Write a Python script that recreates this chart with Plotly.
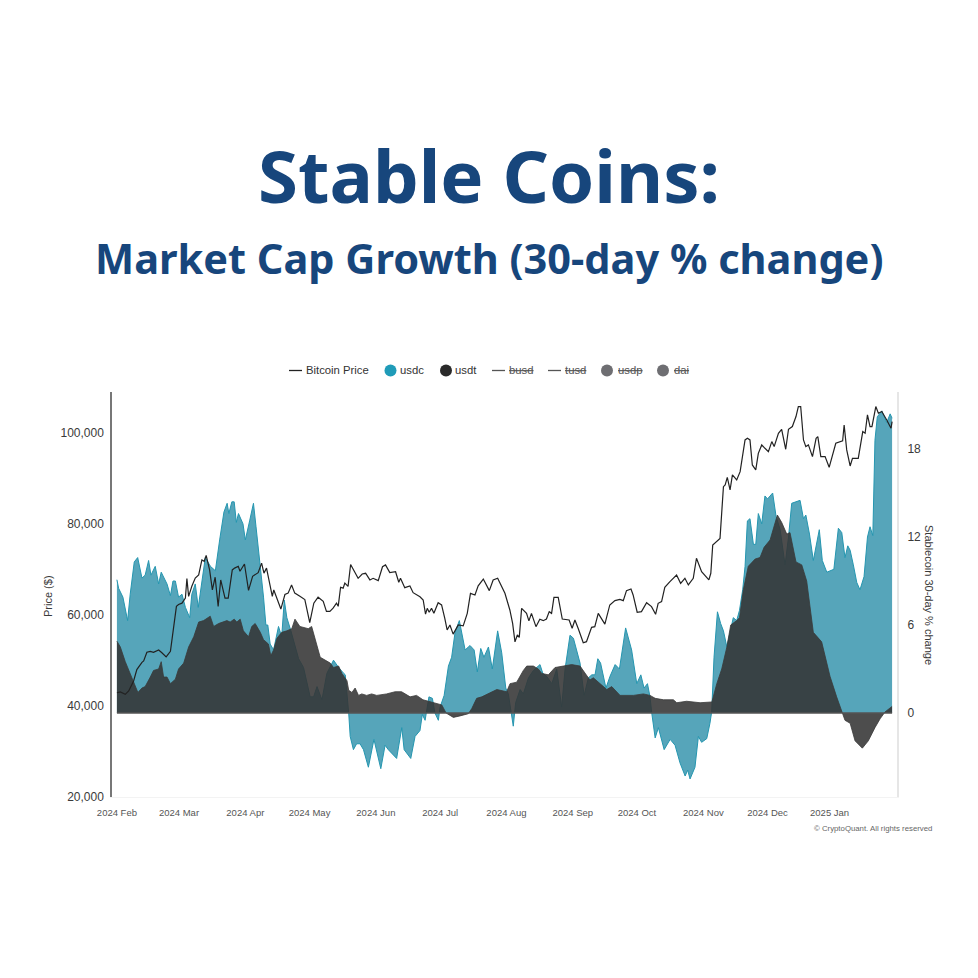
import pandas as pd
import plotly.graph_objects as go

start_date = pd.Timestamp('2024-02-01')

# days since 2024-02-01
btc_days = [0, 1.6, 3.9, 5.5, 7.8, 9.3, 11.7, 12.5, 14, 15.6, 17.1, 19.5, 21, 23, 25, 26.2, 27.8, 28.8, 30.4, 32, 32.7, 33.5, 35, 36.6, 38.2, 39.7, 40.8, 41.7, 43.3, 44.6, 45.9, 47.3, 48.5, 50.5, 52, 53.9, 55, 56.7, 57.5, 59.6, 61.5, 63.4, 66, 67.6, 68.7, 69.9, 70.7, 72.6, 73.3, 74.6, 76.6, 78.5, 80, 81.6, 83.1, 85.5, 87.8, 90.1, 92, 94, 96.4, 97.9, 99.5, 101, 102.6, 103.4, 104.5, 105.7, 106.5, 108,
            109.2, 112.7, 114.6, 116.2, 118.2, 119.7, 122.1, 124.1, 125.5, 127.5, 130.2, 131.7, 132.5, 134.5, 136.9, 138.4, 141.6, 143.1, 144.2, 145, 145.9, 147, 148.1, 150.1, 151.7, 153.2, 154.3, 155.6, 157.1, 159.5, 161.8, 163.7, 165.2, 167.3, 168.8, 171.2, 174, 175.8, 177.9, 181.3, 183.6, 184.9, 186, 187.1, 188, 189.1, 191.4, 192.5, 193.7, 195.8, 197.6, 199.2, 200.7, 202, 203.1, 204.2, 206.2, 208.1, 211.3, 212.7, 214, 215.5, 217.9, 219.4, 221.8, 223.3, 224.9, 228, 230.3, 232.7, 235, 236.6, 238.1, 240.2, 241.2, 243.1, 245.1, 247.5, 249.8, 251.7, 252.9, 254.5, 256, 258.4, 261.5, 263.4, 265.4, 267, 269.3, 270.8, 273.2, 276.6, 277.5,
            278.4, 281.8, 283.4, 284.2, 285.2, 286.5, 287.6, 289.6, 291.2, 293.5, 294.6, 295.8, 296.9, 298.5, 299.7, 301.3, 302.8, 304.4, 306, 307.1, 309.1, 310.6, 312.5, 313.8, 315.6, 317.3, 318.4, 319.5, 320.8, 321.9, 323.1, 325, 326.7, 327.5, 328.9, 330.9, 332.8, 335.9, 339.1, 339.8, 341, 342.6, 343.7, 346.4, 348.5, 349.6, 350.7, 351.9, 352.8, 354.6, 355.8, 357.4, 359.7, 361.7, 362.2]
btc_price = [42900, 43100, 42550, 43300, 45500, 48000, 49600, 49900, 51800, 52000, 51800, 52300, 51700, 50800, 52000, 56000, 61900, 62300, 62600, 63700, 68000, 64100, 66300, 68100, 68800, 72100, 71800, 73100, 69900, 65500, 68300, 61900, 67700, 63700, 63700, 69900, 70300, 70700, 69600, 71200, 65400, 68500, 69300, 71400, 69200, 70300, 68500, 64100, 65500, 63700, 61300, 64500, 64800, 66600, 64800, 64100, 63400, 58300, 62600, 63900, 63000, 60800, 60800, 61500, 62600, 61900, 66100, 65900, 67000, 66300,
             71100, 68060, 69000, 69160, 67700, 68060, 67550, 70600, 71000, 69300, 69500, 67200, 68060, 66000, 66370, 64900, 64000, 63300, 60200, 61460, 60600, 61460, 60360, 62700, 62200, 59260, 56700, 57800, 55800, 57800, 57600, 60360, 64760, 64400, 66400, 67900, 65350, 67700, 68060, 64760, 61100, 58160, 54100, 55600, 55080, 61460, 60360, 58700, 60360, 57430, 59050, 58750, 59100, 60730, 60360, 63880, 63880, 59100, 58900, 57070, 58900, 57070, 53900, 54130, 57280, 57430, 60360, 58000, 62200, 63150, 63440, 63150, 65350, 65700, 64400, 60600, 60730, 62700, 61830, 60140, 62560, 62930, 66080, 67330, 68790, 66960, 68060, 66600, 68060, 72460, 69520, 67700, 69160,
             75375, 76840, 88200, 88570, 90250, 87470, 90770, 89670, 91500, 98460, 98830, 98460, 92970, 91870, 95530, 97370, 96630, 95900, 98100, 97000, 99930, 100810, 96410, 100810, 101400, 103600, 105800, 105800, 98460, 97000, 97370, 94800, 98830, 99200, 94800, 94800, 92450, 97730, 98250, 101760, 96270, 92750, 94430, 94430, 100300, 99930, 103960, 101400, 101400, 105800, 104330, 104700, 102860, 101030, 102500]

usdc_days = [0, 0.8, 2.8, 5, 6.2, 8.1, 9.7, 11.7, 13.2, 14.8, 15.9, 17.9, 19.5, 20.7, 23.4, 25, 26.2, 27.3, 28.8, 30.4, 32, 34, 35, 36.6, 38, 39.7, 41.3, 43.7, 46, 48, 50, 51.5, 52.3, 53.7, 54.8, 55.8, 56.8, 58.9, 60, 62, 63.8, 65, 67, 68.5, 69.6, 70.5, 71.6, 73.2, 75.5, 77, 78.2, 79.4, 81.3, 84.9, 87.2, 90.3, 91.9, 93.5, 95.8, 98.1, 101.2, 102, 103.6, 106, 106.7, 108.3, 109, 110.5, 112,
             113.6, 115.2, 117.5, 120.1, 123.3, 125.3, 126.8, 129.2, 130.7, 133.1, 134.2, 137.3, 139.3, 141.6, 142.7, 144, 145.8, 147.4, 148.6, 150.2, 151, 152.9, 154.9, 156.4, 158, 160, 161.6, 162.7, 165, 166.9, 168.4, 170, 171.5, 173.6, 175.4, 177.9, 179.8, 181.7, 182.9, 184, 185.2, 186.3, 188.4, 189.9, 192.3, 194.6, 197.7, 199, 200.8, 203.2, 205.5, 207.8, 209.4, 211.7, 213.3, 216.4, 218.3, 220.3, 221.9, 223.4, 224.7, 226, 227.3, 228.5, 230.4, 232.8, 234.8, 237.7, 240.5, 242.9, 244.8, 246.3, 247.9, 249.1, 249.9, 251.5, 253, 255.7, 258.5, 260.8, 263.1, 265.5, 266.7, 267.8,
             270.1, 271.7, 273.2, 275.6, 277.1, 277.9, 279, 280.6, 282.1, 283.4, 285, 286.5, 288, 289.6, 290.9, 292.4, 293.5, 294.6, 295.8, 297.4, 298.5, 299.7, 301.3, 302.8, 304, 306.4, 308, 309.9, 312.2, 313.8, 315.3, 319.2, 320.8, 321.9, 323.6, 325.4, 328.2, 329.6, 331.7, 335, 337.1, 338.7, 340.2, 341.5, 342.6, 344.1, 345.7, 347.2, 349.1, 350.7, 351.9, 353.2, 354.2, 355.3, 357.4, 359.7, 361.3, 362.2]
usdc_change = [9.09, 8.5, 7.9, 6.3, 8.1, 10.3, 10.6, 9.2, 9.4, 10.4, 9.4, 10, 8.8, 9.6, 8.8, 8, 9, 9, 7.9, 8.1, 7.2, 6.5, 8.1, 8.8, 7.2, 8.8, 10.6, 10, 9.7, 11.8, 13.7, 14.3, 13.6, 14.4, 14.4, 13, 13.6, 12.9, 11.8, 13.1, 14.3, 12.7, 10, 7.9, 6, 6, 4.7, 4.3, 5.9, 5.2, 7.7, 6.5, 5.6, 3.7, 3.1, 1.1, 1.1, 1.8, 0.9, 2.7, 3.6, 3.4, 3.1, 2.7, 2.6, 0, -1.6, -2.5, -2.1,
               -2.1, -2.5, -3.7, -1.8, -3.8, -2.2, -2.5, -2.9, -3.1, -1, -2.5, -3.1, -1.6, -1.2, -0.1, -0.5, 1.1, 1, 0, -0.5, 0.4, 1.2, 3.2, 3.8, 5.5, 6.3, 5, 4.3, 4.6, 4.3, 2.8, 4.4, 3.8, 4.5, 3, 5.6, 4.1, 1.7, 1.3, 0.2, -0.9, 0.7, 1.6, 1.3, 2.4, 2.9, 3.3, 2.7, 2.5, 2, 3, 0.4, 3, 5.3, 5.1, 3.4, 1.2, 2.4, 2.6, 2.6, 3.7, 3.4, 2.4, 1.7, 2.5, 3.3, 3, 5.8, 4.3, 2, 2.6, 1.7, 2, 1.1, 0, -1.7, -1, -2.5, -1.8, -2.2, -3.4, -4.3, -3.9, -4.5,
               -3.7, -1.6, -2, -1.75, -0.7, 0.07, 3.8, 6.9, 6.1, 5.6, 4.5, 5.6, 6.5, 6.3, 7, 8.4, 10, 13.1, 13.25, 11.5, 11.5, 13.6, 12.9, 14.8, 14.6, 15, 13.4, 12.5, 10.1, 12, 14.3, 14.5, 13.25, 13.5, 12.2, 10.4, 12.5, 10.4, 9.6, 9.8, 12.6, 12.3, 10.6, 11.4, 11.1, 10.1, 8.9, 8.4, 9.3, 12, 12.7, 12.1, 18.6, 20.2, 20.6, 19.8, 20.4, 20.1]

usdt_days = [0, 1.6, 3.9, 6.2, 7.8, 9.8, 11.7, 13.2, 15.6, 17.1, 19.5, 20.7, 21.8, 23.4, 25, 27.3, 28.8, 31.2, 33.5, 35.9, 38.2, 40.5, 43.6, 45.2, 47.5, 49.8, 51.4, 52.9, 54.8, 56, 57.6, 59.1, 61.5, 63, 64.6, 67, 68.5, 70.8, 71.9, 73.2, 74.8, 77, 79.4, 81.7, 83.2, 85.5, 89.4, 91, 93.5, 95, 99.7, 101.2, 103.6, 105.1, 107.5, 108.3, 109.8, 111.3, 112.9, 114.4,
             116.7, 119, 121.4, 126, 130, 133, 137, 140, 143, 145.5, 149.4, 151.8, 153.8, 157.2, 160.3, 164.2, 165.8, 168.1, 170.5, 173.6, 177.5, 182.1, 183.7, 186.8, 189.9, 191.5, 194.6, 196.9, 198.5, 201.6, 204.7, 208.6, 212.5, 216.4, 219.5, 221, 222.6, 225.8, 228.9, 231.2, 233.5, 235.1, 241.3, 246, 249.1, 251.5, 255.4, 260, 261.6, 266.2,
             272.5, 277.1, 278, 280.3, 282.6, 285, 286.8, 289.6, 290.9, 292.7, 295, 298.2, 300.5, 302.4, 305.2, 308.6, 310.6, 313, 314.5, 317.3, 320, 322.3, 325.4, 329.3, 333.2, 336.3, 339, 340.2, 342.6, 344.9, 348.3, 351.1, 354.2, 356.6, 358.9, 362.2]
usdt_change = [4.9, 4.5, 3.5, 2.7, 2.1, 1.4, 1.7, 1.8, 2.45, 2.9, 3, 3.5, 2.45, 2.45, 2, 2.3, 3, 3.4, 4.5, 5.2, 6.2, 6.3, 6.6, 5.9, 6.1, 6.2, 6.3, 6.2, 6.4, 6.2, 6.4, 5.6, 5.2, 5.9, 6.1, 5.5, 5, 4.7, 3.9, 4.3, 5.1, 5.5, 5.6, 5.75, 6.4, 5.9, 5.75, 5.9, 4.5, 3.8, 3.4, 3.1, 3.2, 2.7, 2.2, 1.55, 1.4, 1.7, 1.2, 1.3,
               1.2, 1.3, 1.2, 1.3, 1.45, 1.45, 1.1, 1.2, 0.9, 0.8, 0.65, 0.55, 0, -0.3, -0.2, -0.05, 0.3, 1, 1.1, 1.3, 1.6, 1.45, 2, 2.1, 2.9, 3.2, 3.2, 3, 2.7, 2.6, 3.1, 3.2, 3.3, 3.2, 2.5, 2.25, 2.4, 2, 1.6, 1.8, 1.45, 1.2, 1.2, 1.3, 1.2, 1, 0.9, 0.9, 0.7, 0.8,
               0.7, 0.7, 0.75, 2, 3, 4.5, 6, 6.3, 6.5, 8.4, 10, 10.5, 10.6, 11.3, 11.8, 13.5, 13, 12.2, 12.3, 10.3, 10.1, 9, 5.5, 4.85, 2.5, 1.1, 0, -0.5, -0.7, -1.9, -2.4, -1.9, -1, -0.4, 0.07, 0.45]

tick_dates = ['2024-02-01', '2024-03-01', '2024-04-01', '2024-05-01', '2024-06-01', '2024-07-01',
              '2024-08-01', '2024-09-01', '2024-10-01', '2024-11-01', '2024-12-01', '2024-12-30']
tick_labels = ['2024 Feb', '2024 Mar', '2024 Apr', '2024 May', '2024 Jun', '2024 Jul',
               '2024 Aug', '2024 Sep', '2024 Oct', '2024 Nov', '2024 Dec', '2025 Jan']
price_ticks = [20000, 40000, 60000, 80000, 100000]
change_ticks = [0, 6, 12, 18]


def to_dates(days):
    return start_date + pd.to_timedelta(days, unit='D')


W = 978
text_color = '#3a3a3a'
sans = 'Liberation Sans, Arial, sans-serif'

fig = go.Figure()

fig.add_trace(go.Scatter(
    x=to_dates(usdc_days), y=usdc_change, name='usdc', mode='lines', fill='tozeroy',
    fillcolor='rgba(38,140,166,0.78)', line=dict(color='#2596b0', width=1), yaxis='y'
))
fig.add_trace(go.Scatter(
    x=to_dates(usdt_days), y=usdt_change, name='usdt', mode='lines', fill='tozeroy',
    fillcolor='rgba(52,52,52,0.88)', line=dict(color='#3a3a3a', width=0.8), yaxis='y'
))
# price goes on the overlaying axis so it sits above the filled areas
fig.add_trace(go.Scatter(
    x=to_dates(btc_days), y=btc_price, name='Bitcoin Price', mode='lines',
    line=dict(color='#222222', width=1.2), yaxis='y2'
))

# zero line under the areas, only as long as the data
fig.add_shape(type='line', xref='x', yref='y', x0=to_dates([usdc_days[0]])[0], x1=to_dates([usdc_days[-1]])[0],
              y0=0, y1=0, line=dict(color='#555555', width=1.5))


def px_x(x):
    return x / W


def px_y(y):
    return 1 - y / W


# legend drawn by hand because the struck-out entries are not real traces here
legend_y = 370.5
legend_lines = [(289, 302), (492, 505), (548, 561)]
legend_dots = [(390.5, '#1f9bb8'), (446, '#2a2a2a'), (607, '#6e6e72'), (663, '#6e6e72')]
legend_texts = [(304, 'Bitcoin Price', '#333333'), (398, 'usdc', '#333333'), (453, 'usdt', '#333333'),
                (507, '<s>busd</s>', '#555555'), (563, '<s>tusd</s>', '#555555'),
                (616, '<s>usdp</s>', '#555555'), (672, '<s>dai</s>', '#555555')]
for x0, x1 in legend_lines:
    c = '#222222' if x0 == 289 else '#555555'
    fig.add_shape(type='line', xref='paper', yref='paper', x0=px_x(x0), x1=px_x(x1),
                  y0=px_y(legend_y), y1=px_y(legend_y), line=dict(color=c, width=1.3))
for cx, c in legend_dots:
    fig.add_shape(type='circle', xref='paper', yref='paper', x0=px_x(cx - 6), x1=px_x(cx + 6),
                  y0=px_y(legend_y + 6), y1=px_y(legend_y - 6), fillcolor=c, line=dict(width=0))
for x, t, c in legend_texts:
    fig.add_annotation(xref='paper', yref='paper', x=px_x(x), y=px_y(legend_y), text=t, showarrow=False,
                       xanchor='left', yanchor='middle', font=dict(family=sans, size=11.3, color=c))

fig.add_annotation(xref='paper', yref='paper', x=px_x(489), y=px_y(258),
                   text='<b>Market Cap Growth (30-day % change)</b>', showarrow=False,
                   xanchor='center', yanchor='middle',
                   font=dict(family='Noto Sans', size=41.5, color='#17467c'))
fig.add_annotation(xref='paper', yref='paper', x=px_x(934), y=px_y(828),
                   text='© CryptoQuant. All rights reserved', showarrow=False, xanchor='right', yanchor='middle',
                   font=dict(family=sans, size=7.8, color='#666666'))
fig.add_annotation(xref='paper', yref='paper', x=px_x(48), y=px_y(596), text='Price ($)', textangle=-90,
                   showarrow=False, xanchor='center', yanchor='middle',
                   font=dict(family=sans, size=11, color=text_color))
fig.add_annotation(xref='paper', yref='paper', x=px_x(929), y=px_y(595), text='Stablecoin 30-day % change',
                   textangle=90, showarrow=False, xanchor='center', yanchor='middle',
                   font=dict(family=sans, size=11, color=text_color))

fig.update_layout(
    width=W, height=W,
    margin=dict(l=0, r=0, t=0, b=0),
    paper_bgcolor='white', plot_bgcolor='white',
    showlegend=False,
    title=dict(text='<b>Stable Coins:</b>', x=0.5, xanchor='center', y=px_y(178), yanchor='middle',
               font=dict(family='Noto Sans', size=72.5, color='#17467c')),
    xaxis=dict(
        domain=[px_x(112), px_x(897)], automargin=False,
        range=[to_dates([-2.3])[0], to_dates([364.5])[0]],
        tickvals=tick_dates, ticktext=tick_labels,
        tickfont=dict(family=sans, size=9.5, color='#555555'),
        showgrid=False, zeroline=False, ticks='outside', ticklen=7, tickcolor='rgba(0,0,0,0)',
        showline=True, linecolor='#f3f3f3', linewidth=1
    ),
    yaxis=dict(
        domain=[px_y(797), px_y(392)], automargin=False,
        range=[-5.73, 21.89], side='right', anchor='x',
        tickvals=change_ticks,
        tickfont=dict(family=sans, size=12, color=text_color),
        showgrid=False, zeroline=False, ticks='outside', ticklen=6, tickcolor='rgba(0,0,0,0)',
        showline=True, linecolor='#e6e6e6', linewidth=2
    ),
    yaxis2=dict(
        overlaying='y', side='left', anchor='x', automargin=False,
        range=[20000, 109000],
        tickvals=price_ticks, tickformat=',d',
        tickfont=dict(family=sans, size=12, color=text_color),
        showgrid=False, zeroline=False, ticks='outside', ticklen=4, tickcolor='rgba(0,0,0,0)',
        showline=True, linecolor='#777777', linewidth=1.5
    ),
)

# the browser's default body margin would push the figure 8px off
fig.write_html("out.html", config={'displayModeBar': False},
               post_script="document.body.style.margin='0';")
